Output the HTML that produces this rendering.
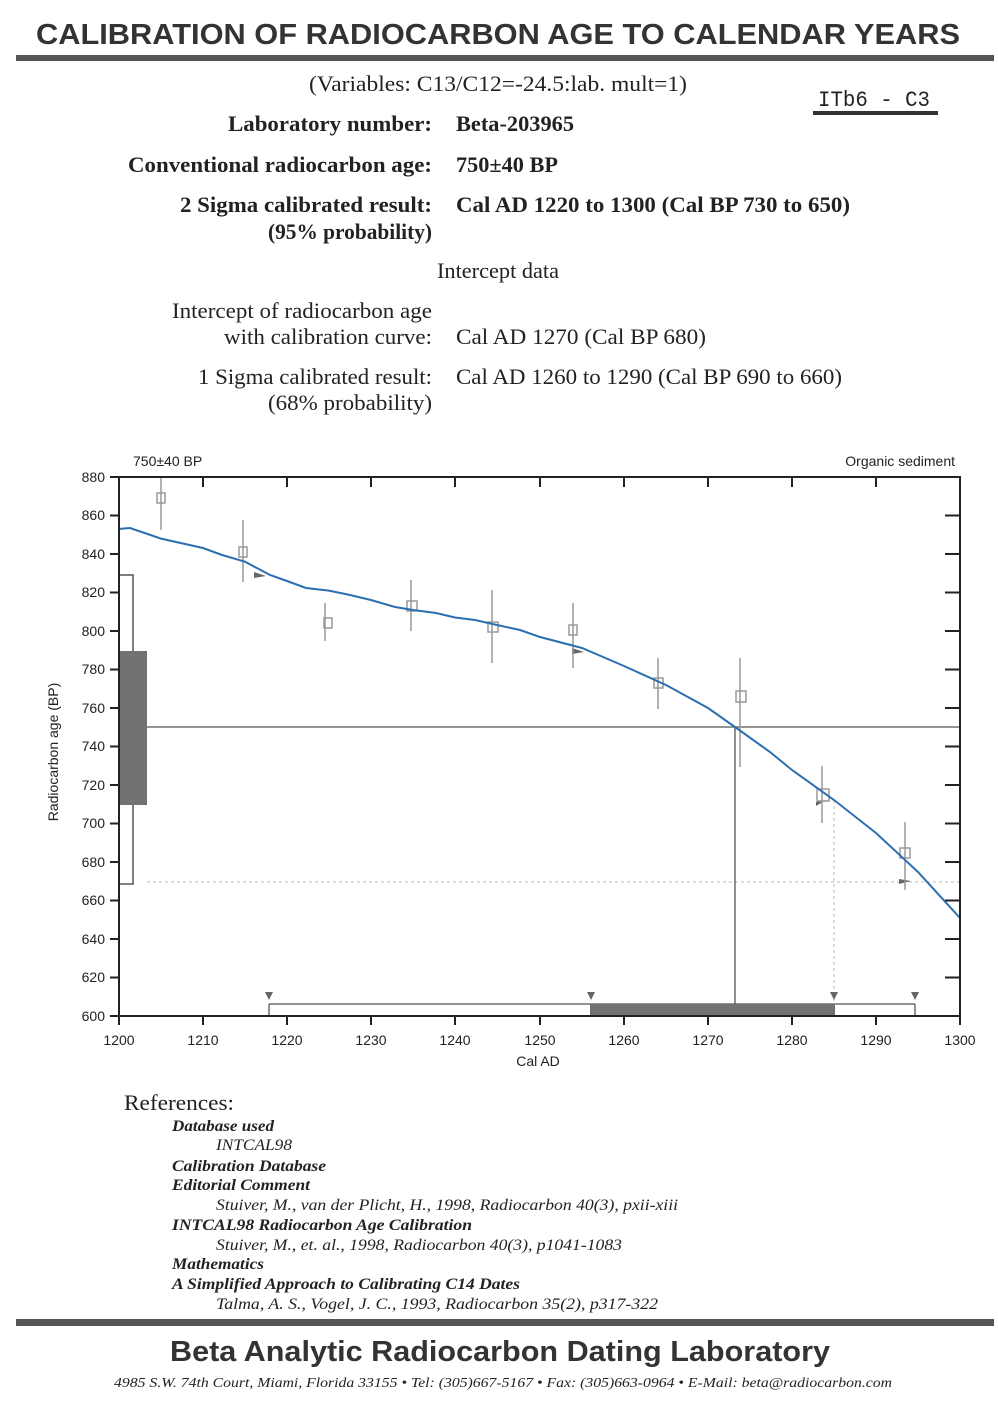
<!DOCTYPE html>
<html><head><meta charset="utf-8"><style>html,body{margin:0;padding:0;background:#fff}svg{display:block}</style></head>
<body>
<svg width="998" height="1402" viewBox="0 0 998 1402" xmlns="http://www.w3.org/2000/svg">
<rect width="998" height="1402" fill="#fff"/>
<g fill="#333">
<text x="498" y="44" text-anchor="middle" font-family="Liberation Sans, sans-serif" font-weight="bold" font-size="29" textLength="924" lengthAdjust="spacingAndGlyphs">CALIBRATION OF RADIOCARBON  AGE TO CALENDAR YEARS</text>
</g>
<rect x="16" y="55" width="978" height="6" fill="#555"/>
<g font-family="Liberation Serif, serif" fill="#222">
<text x="498" y="91" text-anchor="middle" font-size="22" textLength="378" lengthAdjust="spacingAndGlyphs">(Variables:  C13/C12=-24.5:lab. mult=1)</text>
<g font-weight="bold" font-size="22">
<text x="432" y="131" text-anchor="end" textLength="204" lengthAdjust="spacingAndGlyphs">Laboratory number:</text>
<text x="456" y="131" textLength="118" lengthAdjust="spacingAndGlyphs">Beta-203965</text>
<text x="432" y="172" text-anchor="end" textLength="304" lengthAdjust="spacingAndGlyphs">Conventional radiocarbon age:</text>
<text x="456" y="172" textLength="102" lengthAdjust="spacingAndGlyphs">750±40 BP</text>
<text x="432" y="212" text-anchor="end" textLength="252" lengthAdjust="spacingAndGlyphs">2 Sigma calibrated result:</text>
<text x="456" y="212" textLength="394" lengthAdjust="spacingAndGlyphs">Cal AD 1220 to 1300 (Cal BP 730 to 650)</text>
<text x="432" y="239" text-anchor="end" textLength="164" lengthAdjust="spacingAndGlyphs">(95% probability)</text>
</g>
<g font-size="22">
<text x="498" y="278" text-anchor="middle" textLength="122" lengthAdjust="spacingAndGlyphs">Intercept data</text>
<text x="432" y="318" text-anchor="end" textLength="260" lengthAdjust="spacingAndGlyphs">Intercept of radiocarbon age</text>
<text x="432" y="344" text-anchor="end" textLength="208" lengthAdjust="spacingAndGlyphs">with calibration curve:</text>
<text x="456" y="344" textLength="250" lengthAdjust="spacingAndGlyphs">Cal AD 1270 (Cal BP 680)</text>
<text x="432" y="384" text-anchor="end" textLength="234" lengthAdjust="spacingAndGlyphs">1 Sigma calibrated result:</text>
<text x="456" y="384" textLength="386" lengthAdjust="spacingAndGlyphs">Cal AD 1260 to 1290 (Cal BP 690 to 660)</text>
<text x="432" y="410" text-anchor="end" textLength="164" lengthAdjust="spacingAndGlyphs">(68% probability)</text>
</g>
</g>
<text x="818" y="106" font-family="Liberation Mono, monospace" font-size="22" fill="#222" textLength="112" lengthAdjust="spacingAndGlyphs">ITb6 - C3</text>
<rect x="813" y="111" width="125" height="4" fill="#333"/>

<g font-family="Liberation Sans, sans-serif" font-size="14" fill="#222">
<text x="133" y="466">750±40 BP</text>
<text x="955" y="466" text-anchor="end">Organic sediment</text>
<g text-anchor="end">
<text x="105" y="482">880</text><text x="105" y="520">860</text><text x="105" y="559">840</text><text x="105" y="597">820</text><text x="105" y="636">800</text><text x="105" y="674">780</text><text x="105" y="713">760</text><text x="105" y="751">740</text><text x="105" y="790">720</text><text x="105" y="828">700</text><text x="105" y="867">680</text><text x="105" y="905">660</text><text x="105" y="944">640</text><text x="105" y="982">620</text><text x="105" y="1021">600</text>
</g>
<g text-anchor="middle">
<text x="119" y="1045">1200</text><text x="203" y="1045">1210</text><text x="287" y="1045">1220</text><text x="371" y="1045">1230</text><text x="455" y="1045">1240</text><text x="540" y="1045">1250</text><text x="624" y="1045">1260</text><text x="708" y="1045">1270</text><text x="792" y="1045">1280</text><text x="876" y="1045">1290</text><text x="960" y="1045">1300</text>
<text x="538" y="1066">Cal AD</text>
</g>
<text transform="translate(58,752) rotate(-90)" text-anchor="middle">Radiocarbon age (BP)</text>
</g>
<rect x="119" y="575" width="14" height="309" fill="#fff" stroke="#555" stroke-width="1.5"/>
<rect x="119" y="651" width="28" height="154" fill="#707370"/>
<line x1="147" y1="727" x2="960" y2="727" stroke="#555" stroke-width="1.3"/>
<line x1="147" y1="882" x2="960" y2="882" stroke="#bbb" stroke-width="1" stroke-dasharray="3,3"/>
<line x1="735" y1="727" x2="735" y2="1004" stroke="#555" stroke-width="1.3"/>
<line x1="834" y1="800" x2="834" y2="1004" stroke="#bbb" stroke-width="1" stroke-dasharray="3,3"/>
<line x1="269" y1="1004" x2="915" y2="1004" stroke="#555" stroke-width="1.3"/>
<line x1="269" y1="1004" x2="269" y2="1016" stroke="#555" stroke-width="1.3"/>
<line x1="915" y1="1004" x2="915" y2="1016" stroke="#555" stroke-width="1.3"/>
<rect x="590" y="1004" width="245" height="12" fill="#707370"/>
<g fill="#666">
<path d="M265 992h8l-4 8z"/><path d="M587 992h8l-4 8z"/><path d="M830 992h8l-4 8z"/><path d="M911 992h8l-4 8z"/>
<path d="M254 572l12 4l-12 2z"/><path d="M572 648l12 4l-12 2z"/><path d="M816 802l10-2l-10 6z"/><path d="M899 879l12 2l-12 3z"/>
</g>
<g stroke="#999" stroke-width="1.5" fill="none">
<line x1="161" y1="478" x2="161" y2="530"/><rect x="157" y="493" width="8" height="10"/>
<line x1="243" y1="520" x2="243" y2="582"/><rect x="239" y="547" width="8" height="10"/>
<line x1="325" y1="603" x2="325" y2="641"/><rect x="324" y="618" width="8" height="10"/>
<line x1="411" y1="580" x2="411" y2="631"/><rect x="407" y="601" width="10" height="10"/>
<line x1="492" y1="590" x2="492" y2="663"/><rect x="488" y="622" width="10" height="10"/>
<line x1="573" y1="603" x2="573" y2="668"/><rect x="569" y="625" width="8" height="10"/>
<line x1="658" y1="658" x2="658" y2="709"/><rect x="654" y="678" width="9" height="10"/>
<line x1="740" y1="658" x2="740" y2="767"/><rect x="736" y="691" width="10" height="11"/>
<line x1="822" y1="766" x2="822" y2="823"/><rect x="817" y="789" width="12" height="12"/>
<line x1="905" y1="822" x2="905" y2="890"/><rect x="900" y="848" width="10" height="10"/>
</g>
<polyline fill="none" stroke="#2a6fb0" stroke-width="2" points="119,529 130,528 161,538.6 203,548 222,555 245,561.7 270,575 287,581 306,588 329,590.6 350,595 371,600 395,607 413,610 436,613 455,617.5 475,620 497,625 520,630 540,637 582,648 624,666 666,685 708,708 735,727 770,752 792,770 834,800 876,833 918,872 960,918"/>
<g stroke="#222" stroke-width="2" fill="none">
<rect x="119" y="477" width="841" height="539"/>
<path d="M110 477h9M110 515.5h9M110 554h9M110 592.5h9M110 631h9M110 669.5h9M110 708h9M110 746.5h9M110 785h9M110 823.5h9M110 862h9M110 900.5h9M110 939h9M110 977.5h9M110 1016h9"/>
<path d="M945 515.5h15M945 554h15M945 592.5h15M945 631h15M945 669.5h15M945 708h15M945 746.5h15M945 785h15M945 823.5h15M945 862h15M945 900.5h15M945 939h15M945 977.5h15"/>
<path d="M119 1016v9M203 1016v9M287 1016v9M371 1016v9M455 1016v9M540 1016v9M624 1016v9M708 1016v9M792 1016v9M876 1016v9M960 1016v9"/>
<path d="M203 477v10M287 477v10M371 477v10M455 477v10M540 477v10M624 477v10M708 477v10M792 477v10M876 477v10"/>
</g>

<g font-family="Liberation Serif, serif" fill="#222">
<text x="124" y="1110" font-size="22" textLength="110" lengthAdjust="spacingAndGlyphs">References:</text>
<g font-size="16" font-style="italic">
<text x="172" y="1131" font-weight="bold" textLength="102" lengthAdjust="spacingAndGlyphs">Database used</text>
<text x="216" y="1150" textLength="76" lengthAdjust="spacingAndGlyphs">INTCAL98</text>
<text x="172" y="1171" font-weight="bold" textLength="154" lengthAdjust="spacingAndGlyphs">Calibration Database</text>
<text x="172" y="1190" font-weight="bold" textLength="138" lengthAdjust="spacingAndGlyphs">Editorial Comment</text>
<text x="216" y="1210" textLength="462" lengthAdjust="spacingAndGlyphs">Stuiver, M., van der Plicht, H., 1998, Radiocarbon 40(3), pxii-xiii</text>
<text x="172" y="1230" font-weight="bold" textLength="300" lengthAdjust="spacingAndGlyphs">INTCAL98 Radiocarbon Age Calibration</text>
<text x="216" y="1250" textLength="406" lengthAdjust="spacingAndGlyphs">Stuiver, M., et. al., 1998, Radiocarbon 40(3), p1041-1083</text>
<text x="172" y="1269" font-weight="bold" textLength="92" lengthAdjust="spacingAndGlyphs">Mathematics</text>
<text x="172" y="1289" font-weight="bold" textLength="348" lengthAdjust="spacingAndGlyphs">A Simplified Approach to Calibrating C14 Dates</text>
<text x="216" y="1309" textLength="442" lengthAdjust="spacingAndGlyphs">Talma, A. S., Vogel, J. C., 1993, Radiocarbon 35(2), p317-322</text>
</g>
</g>
<rect x="16" y="1319" width="978" height="7" fill="#555"/>
<text x="500" y="1361" text-anchor="middle" font-family="Liberation Sans, sans-serif" font-weight="bold" font-size="29" fill="#333" textLength="660" lengthAdjust="spacingAndGlyphs">Beta Analytic Radiocarbon Dating Laboratory</text>
<text x="503" y="1387" text-anchor="middle" font-family="Liberation Serif, serif" font-style="italic" font-size="14" fill="#222" textLength="778" lengthAdjust="spacingAndGlyphs">4985 S.W. 74th Court, Miami, Florida 33155 • Tel: (305)667-5167 • Fax: (305)663-0964 • E-Mail: beta@radiocarbon.com</text>
</svg>
</body></html>
